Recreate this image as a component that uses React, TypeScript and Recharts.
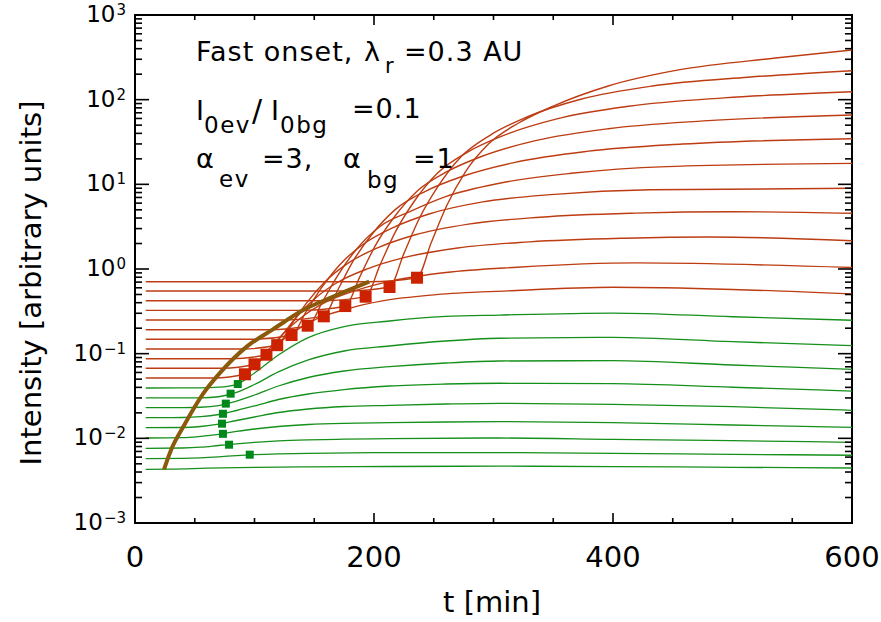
import { ComposedChart, Line, Scatter, XAxis, YAxis, ReferenceArea } from 'recharts'

type Pt = [number, number]

// event + background profiles, [t (min), intensity]
const c1: Pt[] = [[9, 0.708], [196, 0.708], [236, 0.789], [248, 2.07], [261, 5.67], [276, 13.7], [296, 30.1], [321, 53.0], [351, 85.1], [396, 145], [456, 226], [536, 310], [600, 386]]
const c2: Pt[] = [[9, 0.55], [177, 0.55], [213, 0.613], [225, 1.52], [238, 3.97], [253, 9.18], [273, 21.3], [298, 38.7], [328, 62.4], [373, 101], [433, 145], [513, 184], [600, 220]]
const c3: Pt[] = [[9, 0.422], [158, 0.422], [193, 0.471], [205, 1.11], [218, 2.76], [233, 6.1], [253, 13.5], [278, 23.9], [308, 37.6], [353, 59.3], [413, 83.5], [493, 105], [600, 124]]
const c4: Pt[] = [[9, 0.325], [141, 0.325], [176, 0.363], [188, 0.802], [201, 1.88], [216, 3.95], [236, 8.3], [261, 14.1], [291, 21.6], [336, 33.0], [396, 45.4], [476, 56.1], [600, 65.9]]
const c5: Pt[] = [[9, 0.25], [126, 0.25], [158, 0.279], [170, 0.577], [183, 1.27], [198, 2.54], [218, 5.06], [243, 8.28], [273, 12.3], [318, 18.2], [378, 24.5], [458, 29.9], [600, 34.6]]
const c6: Pt[] = [[9, 0.192], [112, 0.192], [145, 0.214], [157, 0.414], [170, 0.854], [185, 1.69], [205, 3.18], [230, 4.76], [260, 7.16], [305, 10.3], [365, 13.5], [445, 16.2], [600, 17.7]]
const c7: Pt[] = [[9, 0.148], [98, 0.148], [131, 0.165], [143, 0.31], [156, 0.597], [171, 1.11], [191, 1.96], [216, 3.08], [246, 4.46], [291, 6.2], [351, 7.62], [431, 8.62], [600, 8.98]]
const c8: Pt[] = [[9, 0.1135], [89, 0.1135], [119, 0.1266], [131, 0.222], [144, 0.404], [159, 0.708], [179, 1.19], [204, 1.8], [234, 2.52], [279, 3.39], [339, 4.09], [419, 4.57], [500, 4.75], [600, 4.55]]
const c9: Pt[] = [[9, 0.0872], [80, 0.0872], [110, 0.0972], [122, 0.158], [135, 0.269], [150, 0.441], [170, 0.702], [195, 1.01], [225, 1.36], [270, 1.77], [330, 2.09], [410, 2.31], [480, 2.39], [600, 2.16]]
const c10: Pt[] = [[9, 0.0672], [73, 0.0672], [100, 0.0749], [112, 0.1126], [125, 0.178], [140, 0.273], [160, 0.408], [185, 0.559], [215, 0.724], [260, 0.909], [320, 1.05], [420, 1.18], [600, 1.04]]
const c11: Pt[] = [[9, 0.0516], [66, 0.0516], [92, 0.0575], [104, 0.0804], [117, 0.122], [132, 0.177], [152, 0.257], [177, 0.336], [207, 0.42], [252, 0.498], [312, 0.551], [400, 0.608], [500, 0.573], [600, 0.507]]

const g1: Pt[] = [[9, 0.0393], [55, 0.0395], [70, 0.0402], [85, 0.0435], [100, 0.0591], [120, 0.0964], [145, 0.155], [175, 0.209], [213, 0.243], [260, 0.275], [305, 0.286], [400, 0.302], [500, 0.273], [600, 0.248]]
const g2: Pt[] = [[9, 0.03], [55, 0.0301], [70, 0.031], [85, 0.0348], [100, 0.0432], [120, 0.0608], [145, 0.0842], [175, 0.1075], [213, 0.1232], [260, 0.1411], [305, 0.152], [400, 0.156], [500, 0.1385], [600, 0.1242]]
const g3: Pt[] = [[9, 0.023], [40, 0.0231], [55, 0.0233], [70, 0.0244], [85, 0.0276], [100, 0.0325], [120, 0.0415], [145, 0.0523], [175, 0.0624], [213, 0.0702], [260, 0.0776], [305, 0.0819], [400, 0.0826], [500, 0.0735], [600, 0.0654]]
const g4: Pt[] = [[9, 0.01753], [40, 0.01762], [55, 0.01801], [70, 0.01912], [85, 0.02132], [100, 0.0241], [120, 0.02875], [145, 0.0334], [175, 0.0377], [213, 0.0415], [260, 0.0438], [305, 0.0447], [400, 0.0442], [500, 0.0401], [600, 0.0362]]
const g5: Pt[] = [[9, 0.01335], [40, 0.01343], [55, 0.0138], [70, 0.01469], [85, 0.01624], [100, 0.01786], [120, 0.02019], [145, 0.02221], [175, 0.02377], [213, 0.02456], [260, 0.02544], [305, 0.02593], [400, 0.02523], [500, 0.02364], [600, 0.02144]]
const g6: Pt[] = [[9, 0.01009], [40, 0.0102], [55, 0.01057], [70, 0.01116], [85, 0.01205], [100, 0.01289], [120, 0.0138], [145, 0.01457], [175, 0.01505], [213, 0.0153], [260, 0.0156], [305, 0.01572], [400, 0.0153], [500, 0.01437], [600, 0.0135]]
const g7: Pt[] = [[9, 0.00763], [40, 0.00769], [55, 0.00786], [70, 0.00823], [85, 0.00862], [100, 0.00898], [120, 0.00935], [145, 0.00961], [175, 0.00977], [213, 0.0099], [305, 0.01009], [400, 0.00974], [500, 0.00938], [600, 0.00898]]
const g8: Pt[] = [[9, 0.00575], [40, 0.0058], [55, 0.00589], [70, 0.00605], [85, 0.00626], [100, 0.00643], [120, 0.00657], [145, 0.00666], [213, 0.00677], [305, 0.00677], [400, 0.00666], [500, 0.00648], [600, 0.00631]]
const g9: Pt[] = [[9, 0.00431], [30, 0.00433], [60, 0.00444], [100, 0.00455], [145, 0.00461], [213, 0.00465], [305, 0.00469], [400, 0.00464], [500, 0.00455], [600, 0.00446]]

// onset curve (thick)
const onsetLine: Pt[] = [[24.3, 0.00431], [30, 0.0072], [40.4, 0.0137], [57.2, 0.034], [71.1, 0.0593], [93.5, 0.121], [115.7, 0.195], [140.8, 0.328], [165.9, 0.471], [196, 0.708]]

// observed onsets
const redOnsets: Pt[] = [[236, 0.789], [213, 0.613], [193, 0.471], [176, 0.365], [158, 0.276], [144.5, 0.214], [131, 0.166], [119, 0.126], [110, 0.0972], [100, 0.0749], [92, 0.0571]]
const greenOnsets: Pt[] = [[86, 0.0438], [80, 0.0337], [76, 0.0257], [73.6, 0.0195], [72.8, 0.0149], [73.6, 0.0113], [78.7, 0.00841], [96, 0.00641]]

const redCurves = [c1, c2, c3, c4, c5, c6, c7, c8, c9, c10, c11]
const greenCurves = [g1, g2, g3, g4, g5, g6, g7, g8, g9]

const xTicks = [0, 50, 100, 150, 200, 250, 300, 350, 400, 450, 500, 550, 600]
const xLabels = [0, 200, 400, 600]
const decades = [-3, -2, -1, 0, 1, 2, 3]
const minors = [2, 3, 4, 5, 6, 7, 8, 9]

const yTicks: number[] = []
decades.forEach((e) => {
  yTicks.push(Math.pow(10, e))
  if (e < 3) minors.forEach((m) => yTicks.push(m * Math.pow(10, e)))
})

const W = 881, H = 622
const PLOT_W = 717, PLOT_H = 508
const FONT = '"DejaVu Sans", sans-serif'
const RED = '#bd3c12'
const GREEN = '#16901c'

const toPts = (a: Pt[]) => a.map(([t, v]) => ({ t, v }))

function XTick(props: any) {
  const { x, y, payload } = props
  const major = xLabels.includes(payload.value)
  const len = major ? 10 : 5
  return (
    <g>
      <line x1={x} x2={x} y1={y} y2={y - len} stroke="#000" strokeWidth={1.6} />
      <line x1={x} x2={x} y1={y - PLOT_H} y2={y - PLOT_H + len} stroke="#000" strokeWidth={1.6} />
      {major && (
        <text x={x} y={y + 44} textAnchor="middle" fontFamily={FONT} fontSize={29} fill="#000">
          {payload.value}
        </text>
      )}
    </g>
  )
}

function YTick(props: any) {
  const { x, y, payload } = props
  const lg = Math.log10(payload.value)
  const exp = Math.round(lg)
  const major = Math.abs(lg - exp) < 1e-6
  const len = major ? 14 : 7
  return (
    <g>
      <line x1={x} x2={x + len} y1={y} y2={y} stroke="#000" strokeWidth={1.6} />
      <line x1={x + PLOT_W} x2={x + PLOT_W - len} y1={y} y2={y} stroke="#000" strokeWidth={1.6} />
      {major && (
        <text x={x - 9} y={y + 7} textAnchor="end" fontFamily={FONT} fontSize={23} fill="#000">
          10
          <tspan dx={1} dy={-7} fontSize={15}>{exp < 0 ? `\u2212${-exp}` : `${exp}`}</tspan>
        </text>
      )}
    </g>
  )
}

const square = (size: number, color: string) => (p: any) => (
  <rect x={p.cx - size / 2} y={p.cy - size / 2} width={size} height={size} fill={color} />
)

export default function App() {
  return (
    <div style={{ position: 'absolute', left: 0, top: 0, width: W, height: H, background: '#fff' }}>
      <ComposedChart width={W} height={H} margin={{ top: 15, right: 29, bottom: 39, left: 75 }}>
        <XAxis
          type="number" dataKey="t" domain={[0, 600]} ticks={xTicks} interval={0}
          allowDataOverflow axisLine={false} tickLine={false} tickSize={0} tickMargin={0}
          height={60} tick={(p: any) => <XTick {...p} />}
        />
        <YAxis
          type="number" dataKey="v" scale="log" domain={[0.001, 1000]} ticks={yTicks} interval={0}
          allowDataOverflow axisLine={false} tickLine={false} tickSize={0} tickMargin={0}
          width={60} tick={(p: any) => <YTick {...p} />}
        />
        {greenCurves.map((c, i) => (
          <Line key={`g${i}`} data={toPts(c)} dataKey="v" type="monotone" stroke={GREEN}
            strokeWidth={1.3} dot={false} isAnimationActive={false} />
        ))}
        {redCurves.map((c, i) => (
          <Line key={`r${i}`} data={toPts(c)} dataKey="v" type="monotone" stroke={RED}
            strokeWidth={1.4} dot={false} isAnimationActive={false} />
        ))}
        <Line data={toPts(onsetLine)} dataKey="v" type="monotone" stroke="#8a5a0a"
          strokeWidth={4} dot={false} isAnimationActive={false} />
        <Scatter data={toPts(redOnsets)} shape={square(12, '#cc2200')} isAnimationActive={false} />
        <Scatter data={toPts(greenOnsets)} shape={square(8, '#00891a')} isAnimationActive={false} />
        <ReferenceArea x1={0} x2={600} y1={0.001} y2={1000} fill="none" stroke="#000"
          strokeWidth={2} ifOverflow="visible" />
      </ComposedChart>
      <svg width={W} height={H} style={{ position: 'absolute', left: 0, top: 0, pointerEvents: 'none' }}
        fontFamily={FONT} fill="#000">
        <text x={196} y={61} fontSize={27} letterSpacing={1}>Fast onset,</text>
        <text x={364} y={61} fontSize={27}>λ</text>
        <text x={385} y={73} fontSize={21}>r</text>
        <text x={404} y={61} fontSize={27} letterSpacing={1}>=0.3 AU</text>

        <text x={196} y={120} fontSize={27}>I</text>
        <text x={204} y={133} fontSize={23} letterSpacing={1.5}>0ev</text>
        <text x={252} y={121} fontSize={30}>/</text>
        <text x={271} y={120} fontSize={27}>I</text>
        <text x={280} y={133} fontSize={23} letterSpacing={1.5}>0bg</text>
        <text x={352} y={118} fontSize={27} letterSpacing={1}>=0.1</text>

        <text x={196} y={168} fontSize={27}>α</text>
        <text x={219} y={187} fontSize={23} letterSpacing={1.5}>ev</text>
        <text x={262} y={168} fontSize={27} letterSpacing={1}>=3,</text>
        <text x={343} y={168} fontSize={27}>α</text>
        <text x={367} y={188} fontSize={23} letterSpacing={1.5}>bg</text>
        <text x={413} y={168} fontSize={27} letterSpacing={1}>=1</text>

        <text x={492} y={612} fontSize={29} textAnchor="middle">t [min]</text>
        <text x={41} y={283} fontSize={29} textAnchor="middle" transform="rotate(-90 41 283)">
          Intensity [arbitrary units]
        </text>
      </svg>
    </div>
  )
}
